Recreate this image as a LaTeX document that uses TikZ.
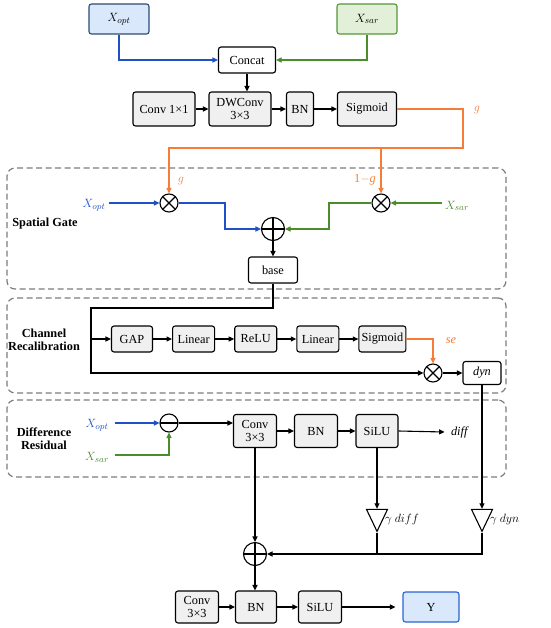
\documentclass[tikz,border=0pt]{standalone}
\usepackage{fontspec}
\setmainfont{Liberation Serif}
\usetikzlibrary{shapes.geometric,arrows.meta,positioning,calc}
\definecolor{optblue}{RGB}{30,80,200}
\definecolor{sargreen}{RGB}{75,140,45}
\definecolor{gateorange}{RGB}{245,125,55}
\definecolor{boxgray}{RGB}{240,240,240}
\definecolor{optfill}{RGB}{218,232,252}
\definecolor{optedge}{RGB}{45,75,115}
\definecolor{sarfill}{RGB}{226,240,217}
\definecolor{saredge}{RGB}{85,150,55}
\definecolor{yedge}{RGB}{40,100,210}
\definecolor{dashgray}{RGB}{125,125,125}
\newcommand{\diagfont}{\fontsize{12.3}{13}\selectfont}
\newcommand{\mathlabfont}{\fontsize{13}{14}\selectfont}
\tikzset{
  opbox/.style={rectangle,rounded corners=2.5pt,draw=black,fill=boxgray,
    line width=1.1pt,minimum height=26pt,align=center,inner sep=1pt,
    font=\diagfont},
  plainbox/.style={opbox,fill=white},
  inbox/.style={opbox,minimum height=30pt,font=\mathlabfont},
  mulnode/.style={circle,draw,line width=1.1pt,minimum size=18pt,inner sep=0pt,
    path picture={\draw[line width=1.1pt]
      (path picture bounding box.north west) -- (path picture bounding box.south east)
      (path picture bounding box.north east) -- (path picture bounding box.south west);}},
  addnode/.style={circle,draw,line width=1.1pt,minimum size=23pt,inner sep=0pt,
    path picture={\draw[line width=1.1pt]
      (path picture bounding box.north) -- (path picture bounding box.south)
      (path picture bounding box.west) -- (path picture bounding box.east);}},
  subnode/.style={circle,draw,line width=1.1pt,minimum size=18pt,inner sep=0pt,
    path picture={\draw[line width=1.1pt]
      (path picture bounding box.west) -- (path picture bounding box.east);}},
  gainnode/.style={isosceles triangle,isosceles triangle stretches,
    shape border rotate=270,draw,line width=1.1pt,inner sep=0pt,
    minimum width=21pt,minimum height=22pt},
  stagebox/.style={rectangle,rounded corners=8pt,draw=dashgray,
    dash pattern=on 6pt off 3.5pt,line width=1.2pt,minimum width=499pt},
  stagelabel/.style={font=\diagfont\bfseries,align=center},
  mathlab/.style={font=\mathlabfont},
  arrow/.style={-{Triangle[length=5.5pt,width=5pt]},line width=1.1pt},
  line/.style={line width=1.1pt},
}

\begin{document}
\begin{tikzpicture}[x=1pt,y=-1pt,font=\diagfont]
  \useasboundingbox (0,0) rectangle (550,628);

  % dashed stage frames
  \node[stagebox,minimum height=121pt] (sgframe) at (256.5,228.5) {};
  \node[stagebox,minimum height=95pt] (crframe) at (256.5,345.5) {};
  \node[stagebox,minimum height=77pt] (drframe) at (256.5,438.5) {};

  % inputs and gate branch
  \node[inbox,draw=optedge,fill=optfill,minimum width=60pt] (xopt) at (119,19) {$X_{opt}$};
  \node[inbox,draw=saredge,fill=sarfill,minimum width=60pt] (xsar) at (367,19) {$X_{sar}$};
  \node[plainbox,minimum width=57pt] (concat) at (247,60) {Concat};
  \node[opbox,minimum width=62pt,minimum height=34pt] (conva) at (164,109) {Conv 1×1};
  \node[opbox,minimum width=62pt,minimum height=34pt] (dwconv) at (240,109) {DWConv\\3×3};
  \node[opbox,minimum width=27pt,minimum height=34pt] (bna) at (300,109) {BN};
  \node[opbox,minimum width=59pt,minimum height=34pt] (siga) at (367,109) {Sigmoid};
  \node[mathlab,text=gateorange] (glab) at (477,110) {$g$};

  \draw[arrow,optblue] (xopt.south) |- (concat.west);
  \draw[arrow,sargreen] (xsar.south) |- (concat.east);
  \draw[arrow] (concat.south) -- (concat.south |- dwconv.north);
  \draw[arrow] (conva) -- (dwconv);
  \draw[arrow] (dwconv) -- (bna);
  \draw[arrow] (bna) -- (siga);

  % spatial gate
  \node[stagelabel] (sglab) at (45,224) {Spatial Gate};
  \node[mulnode] (mulopt) at (169,203) {};
  \node[mulnode] (mulsar) at (381,203) {};
  \node[addnode] (addg) at (273,229) {};
  \node[plainbox,minimum width=49pt] (base) at (273,270) {base};
  \node[mathlab,text=optblue] (xoptb) at (94,205) {$X_{opt}$};
  \node[mathlab,text=sargreen] (xsarb) at (457,206) {$X_{sar}$};
  \node[mathlab,text=gateorange] (gwt) at (181,181) {$g$};
  \node[text=gateorange] (gcomp) at (365,180) {1$-$\textit{g}};

  \coordinate (gturn) at (463,148);
  \coordinate (optbend) at (225,229);
  \coordinate (sarbend) at (329,229);
  \draw[arrow,gateorange] (siga.east) -| (gturn) -| (mulopt.north);
  \draw[arrow,gateorange] (mulsar |- gturn) -- (mulsar.north);
  \draw[arrow,optblue] (xoptb.east |- mulopt) -- (mulopt.west);
  \draw[arrow,sargreen] (xsarb.west |- mulsar) -- (mulsar.east);
  \draw[arrow,optblue] (mulopt.east) -| (optbend) -- (addg.west);
  \draw[arrow,sargreen] (mulsar.west) -| (sarbend) -- (addg.east);
  \draw[arrow] (addg.south) -- (base.north);

  % channel recalibration
  \node[stagelabel] (crlab) at (44,340) {Channel\\Recalibration};
  \node[opbox,minimum width=41pt] (gap) at (132,339) {GAP};
  \node[opbox,minimum width=42pt,right=19pt of gap] (lina) {Linear};
  \node[opbox,minimum width=42pt,right=19pt of lina] (relu) {ReLU};
  \node[opbox,minimum width=42pt,right=19pt of relu] (linb) {Linear};
  \node[opbox,minimum width=47pt,right=19pt of linb] (sigb) {Sigmoid};
  \node[mulnode] (mulc) at (433,373) {};
  \node[plainbox,minimum width=38pt,minimum height=23pt] (dyn) at (482,373) {\textit{dyn}};
  \node[text=gateorange] (selab) at (451,341) {\textit{se}};

  \coordinate (cbend) at (91,308);
  \draw[arrow] (base.south) |- (cbend) |- (mulc.west);
  \draw[arrow] (cbend |- gap) -- (gap.west);
  \draw[arrow] (gap) -- (lina);
  \draw[arrow] (lina) -- (relu);
  \draw[arrow] (relu) -- (linb);
  \draw[arrow] (linb) -- (sigb);
  \draw[arrow,gateorange] (sigb.east) -| (mulc.north);
  \draw[arrow] (mulc) -- (dyn);

  % difference residual
  \node[stagelabel] (drlab) at (44,439) {Difference\\Residual};
  \node[subnode] (subd) at (169,423) {};
  \node[mathlab,text=optblue] (xoptc) at (97,425) {$X_{opt}$};
  \node[mathlab,text=sargreen] (xsarc) at (97,457) {$X_{sar}$};
  \node[opbox,minimum width=43pt,minimum height=33pt] (convb) at (255,431) {Conv\\3×3};
  \node[opbox,minimum width=43pt,minimum height=33pt] (bnb) at (316,431) {BN};
  \node[opbox,minimum width=42pt,minimum height=33pt] (silua) at (377,431) {SiLU};
  \node (difflab) at (460,432) {\textit{diff}};

  \draw[arrow,optblue] ([xshift=3pt]xoptc.east |- subd) -- (subd.west);
  \draw[arrow,sargreen] ([xshift=3pt]xsarc.east |- 0,455) -| (subd.south);
  \draw[arrow] (subd.east) -- (subd -| convb.west);
  \draw[arrow] (convb) -- (bnb);
  \draw[arrow] (bnb) -- (silua);
  \draw[arrow] (silua.east) -- ([xshift=-3pt]difflab.west);

  % weighted fusion
  \node[gainnode] (gdiff) at (377,516) {};
  \node[gainnode] (gdyn) at (482,516) {};
  \node[anchor=west,font=\fontsize{11.5}{12}\selectfont,inner sep=1pt] (gdifflab) at (384,519) {$\gamma\ diff$};
  \node[anchor=west,font=\fontsize{11.5}{12}\selectfont,inner sep=1pt] (gdynlab) at (489,519) {$\gamma\ dyn$};
  \node[addnode] (addf) at (255,554) {};

  \draw[arrow] (silua.south) -- (gdiff.lower side);
  \draw[arrow] (dyn.south) -- (gdyn.lower side);
  \draw[line] (gdiff.apex) -- (gdiff.apex |- addf);
  \draw[arrow] (gdyn.apex) |- (addf.east);
  \draw[arrow] (convb.south) -- (addf.north);

  % output stage
  \node[opbox,minimum width=43pt,minimum height=32pt] (convc) at (197,607) {Conv\\3×3};
  \node[opbox,minimum width=41pt,minimum height=32pt] (bnc) at (256,607) {BN};
  \node[opbox,minimum width=43pt,minimum height=32pt] (silub) at (320,607) {SiLU};
  \node[opbox,draw=yedge,fill=optfill,minimum width=56pt,minimum height=30pt] (yout) at (431,607) {Y};

  \draw[arrow] (addf.south) -- (addf.south |- bnc.north);
  \draw[arrow] (convc) -- (bnc);
  \draw[arrow] (bnc) -- (silub);
  \draw[arrow,shorten >=7pt] (silub) -- (yout);

\end{tikzpicture}
\end{document}
